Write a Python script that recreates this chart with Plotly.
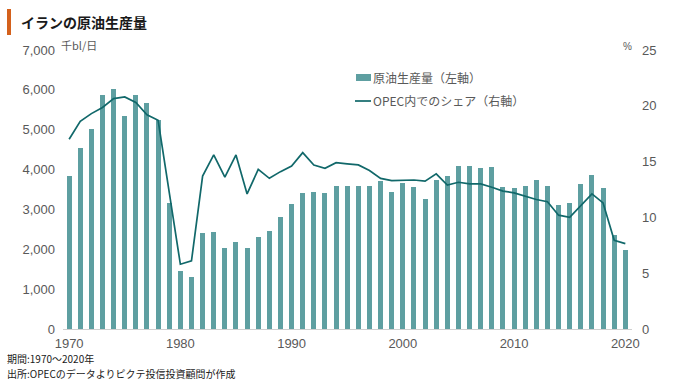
import plotly.graph_objects as go

years = list(range(1970, 2021))
production = [3830, 4540, 5020, 5860, 6020, 5350, 5880, 5660, 5240, 3170,
              1460, 1300, 2400, 2440, 2030, 2190, 2040, 2300, 2450, 2810,
              3140, 3400, 3430, 3420, 3600, 3600, 3600, 3600, 3710, 3440,
              3660, 3570, 3250, 3740, 3830, 4090, 4090, 4040, 4055, 3560,
              3540, 3580, 3740, 3580, 3120, 3150, 3650, 3870, 3550, 2360,
              1990]
share = [17.0, 18.6, 19.3, 19.85, 20.65, 20.8, 20.3, 19.2, 18.7, 12.4,
         5.8, 6.1, 13.7, 15.6, 13.6, 15.6, 12.1, 14.3, 13.5, 14.1,
         14.6, 15.8, 14.7, 14.4, 14.9, 14.8, 14.7, 14.2, 13.5, 13.3,
         13.3, 13.35, 13.25, 13.9, 12.9, 13.15, 13.0, 13.0, 12.7, 12.35,
         12.2, 11.9, 11.6, 11.4, 10.2, 10.0, 11.1, 12.1, 11.3, 7.95,
         7.65]
left_ticks = [0, 1000, 2000, 3000, 4000, 5000, 6000, 7000]
right_ticks = [0, 5, 10, 15, 20, 25]
x_ticks = [1970, 1980, 1990, 2000, 2010, 2020]

BAR = "#5e9fa1"
LINE = "#11686a"
GRAY = "#595959"
FONT = "Liberation Sans, Noto Sans CJK JP, sans-serif"
JFONT = "Noto Sans CJK JP, sans-serif"

L, T, PW, PH = 63, 50, 569, 279


def px(x):
    return (x - L) / PW


def py(y):
    return (T + PH - y) / PH


fig = go.Figure()
fig.add_trace(go.Bar(x=years, y=production, name="原油生産量（左軸）",
                     marker=dict(color=BAR, line=dict(width=0)), width=0.45,
                     showlegend=False))
fig.add_trace(go.Scatter(x=years, y=share, yaxis="y2", mode="lines",
                         name="OPEC内でのシェア（右軸）",
                         line=dict(color=LINE, width=1.7), showlegend=False))

fig.update_layout(
    width=680, height=390,
    margin=dict(l=L, r=680 - L - PW, t=T, b=390 - T - PH),
    paper_bgcolor="white", plot_bgcolor="white",
    font=dict(family=FONT, color=GRAY, size=13),
    xaxis=dict(range=[1969.45, 2020.6], tickvals=x_ticks, showgrid=False,
               showline=True, linecolor="#d0d0d0", linewidth=1, ticks="",
               zeroline=False, tickfont=dict(size=13, color=GRAY),
               ticklabelstandoff=2),
    yaxis=dict(range=[0, 7000], tickvals=left_ticks, tickformat=",",
               showgrid=False, zeroline=False, showline=False, ticks="",
               tickfont=dict(size=13, color=GRAY), ticklabelstandoff=7),
    yaxis2=dict(range=[0, 25], tickvals=right_ticks, overlaying="y",
                side="right", showgrid=False, zeroline=False, showline=False,
                ticks="", tickfont=dict(size=13, color=GRAY), ticklabelstandoff=9),
    bargap=0,
)

# title with accent bar
fig.add_shape(type="rect", xref="paper", yref="paper",
              x0=px(7), x1=px(11), y0=py(35), y1=py(9),
              fillcolor="#d4611c", line=dict(width=0), layer="above")
fig.add_annotation(text="<b>イランの原油生産量</b>", xref="paper", yref="paper",
                   x=px(19), y=py(22), xanchor="left", yanchor="middle",
                   showarrow=False, font=dict(family=JFONT, size=14, color="#1a1a1a"))
fig.add_annotation(text="千bl/日", xref="paper", yref="paper",
                   x=px(59), y=py(45), xanchor="left", yanchor="middle",
                   showarrow=False, font=dict(family=JFONT, size=11, color=GRAY))
fig.add_annotation(text="%", xref="paper", yref="paper",
                   x=px(634), y=py(46), xanchor="right", yanchor="middle",
                   showarrow=False, font=dict(family=FONT, size=10, color=GRAY))

# legend (drawn manually)
fig.add_shape(type="rect", xref="paper", yref="paper",
              x0=px(356), x1=px(371), y0=py(81), y1=py(74),
              fillcolor=BAR, line=dict(width=0))
fig.add_annotation(text="原油生産量（左軸）", xref="paper", yref="paper",
                   x=px(371), y=py(78), xanchor="left", yanchor="middle",
                   showarrow=False, font=dict(family=JFONT, size=12, color=GRAY))
fig.add_shape(type="line", xref="paper", yref="paper",
              x0=px(355), x1=px(371), y0=py(101), y1=py(101),
              line=dict(color=LINE, width=1.7))
fig.add_annotation(text="OPEC内でのシェア（右軸）", xref="paper", yref="paper",
                   x=px(371), y=py(101), xanchor="left", yanchor="middle",
                   showarrow=False, font=dict(family=JFONT, size=12, color=GRAY))

# notes
fig.add_annotation(text="期間:1970～2020年", xref="paper", yref="paper",
                   x=px(5), y=py(358), xanchor="left", yanchor="middle",
                   showarrow=False, font=dict(family=JFONT, size=10, color="#1a1a1a"))
fig.add_annotation(text="出所:OPECのデータよりピクテ投信投資顧問が作成", xref="paper", yref="paper",
                   x=px(5), y=py(373), xanchor="left", yanchor="middle",
                   showarrow=False, font=dict(family=JFONT, size=10, color="#1a1a1a"))

fig.write_html("out.html", config={"displayModeBar": False},
               post_script="document.body.style.margin='0';document.body.style.padding='0';")
